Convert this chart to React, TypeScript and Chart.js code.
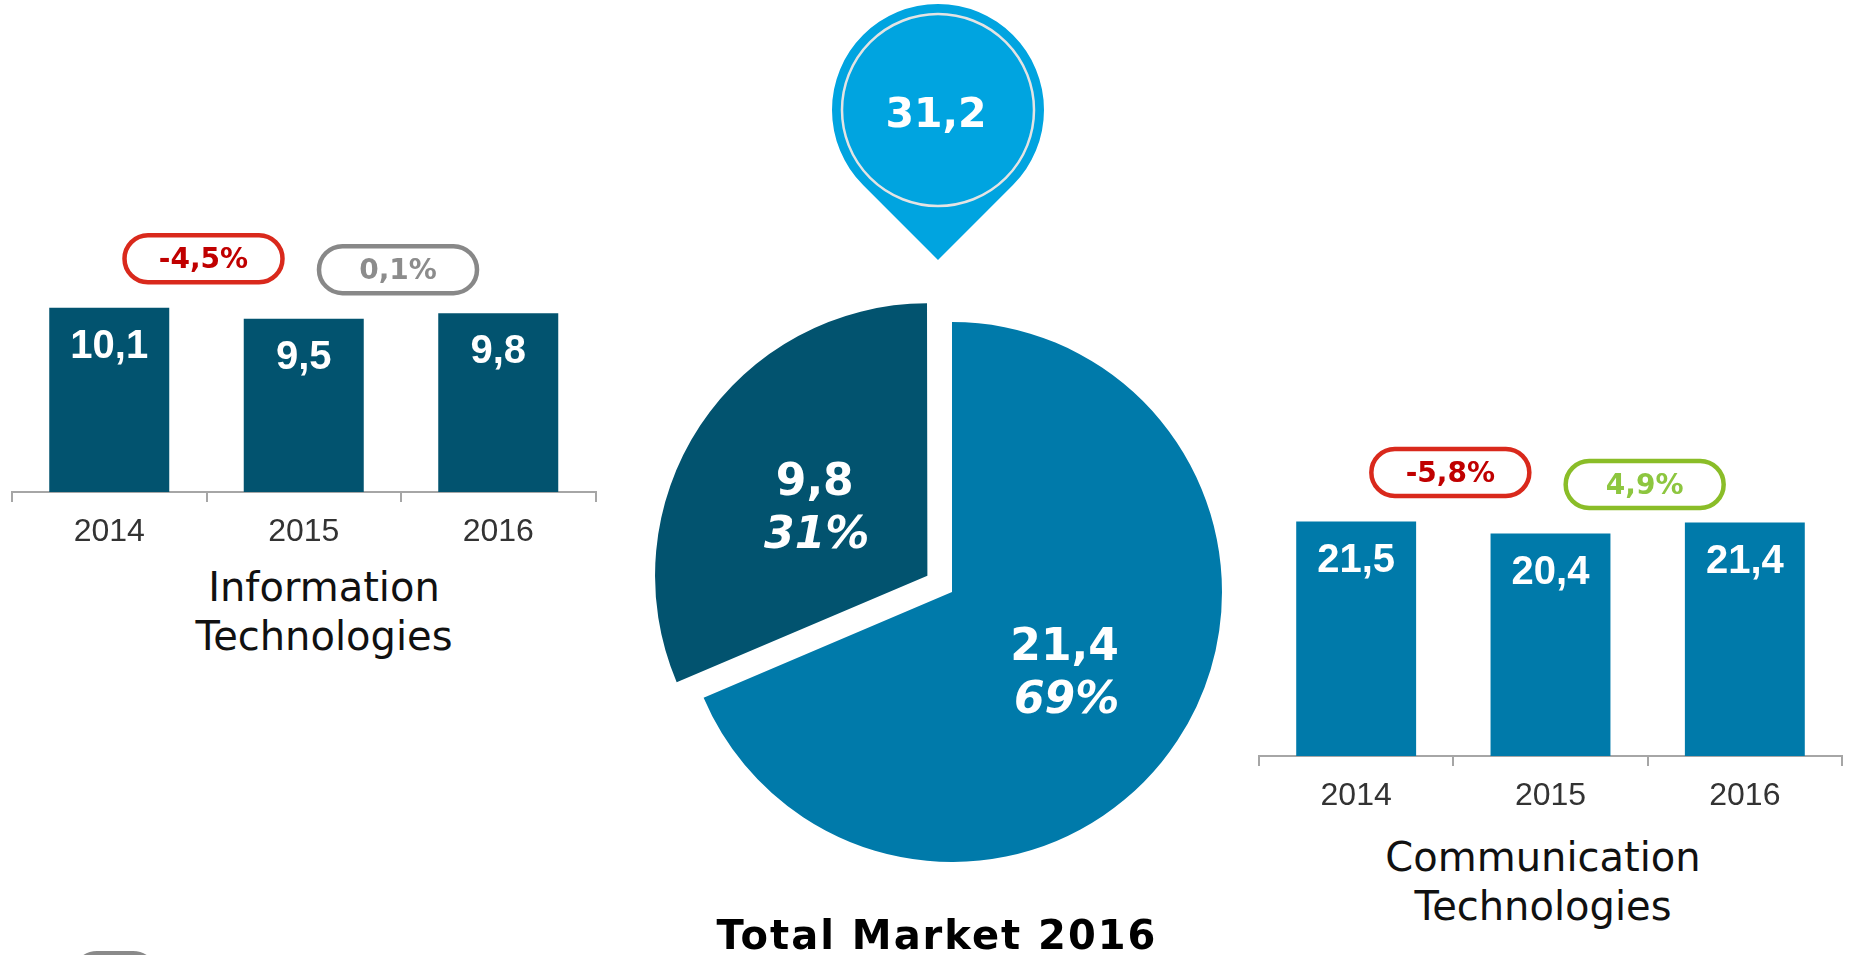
import React, { useEffect, useRef } from 'react';
import { Chart, registerables } from 'chart.js';

Chart.register(...registerables);

// ---- data ----
const years = ['2014', '2015', '2016'];
const itValues = [10.1, 9.5, 9.8];
const ctValues = [21.5, 20.4, 21.4];
const itChanges = [-4.5, 0.1];
const ctChanges = [-5.8, 4.9];
const segmentLabels = ['Communication Technologies', 'Information Technologies'];
const marketValues = [21.4, 9.8];
const itTitle = ['Information', 'Technologies'];
const ctTitle = ['Communication', 'Technologies'];
const totalTitle = 'Total Market 2016';

// ---- styles ----
const DARK = '#02536F';
const MID = '#007AAA';
const PIN = '#00A4E0';
const AXIS = '#a6a6a6';
const EXPLODE = 118; // Chart.js arc offset (moves slice by offset / 4)

const fmt = (v: number, d = 1) => v.toFixed(d).replace('.', ',');

function tone(v: number) {
  if (v <= -1) return { border: '#D9291C', text: '#C00000' };
  if (v >= 1) return { border: '#8ABD28', text: '#8DC63F' };
  return { border: '#888888', text: '#8c8c8c' };
}

function roundRectPath(ctx: CanvasRenderingContext2D, x: number, y: number, w: number, h: number, r: number) {
  ctx.beginPath();
  ctx.moveTo(x + r, y);
  ctx.lineTo(x + w - r, y);
  ctx.arc(x + w - r, y + r, r, -Math.PI / 2, 0);
  ctx.lineTo(x + w, y + h - r);
  ctx.arc(x + w - r, y + h - r, r, 0, Math.PI / 2);
  ctx.lineTo(x + r, y + h);
  ctx.arc(x + r, y + h - r, r, Math.PI / 2, Math.PI);
  ctx.lineTo(x, y + r);
  ctx.arc(x + r, y + r, r, Math.PI, Math.PI * 1.5);
  ctx.closePath();
}

type BarProps = {
  values: number[];
  changes: number[];
  color: string;
  left: number;
  top: number;
  width: number;
  height: number;
  padL: number;
  padR: number;
  max: number;
};

function BarPanel({ values, changes, color, left, top, width, height, padL, padR, max }: BarProps) {
  const ref = useRef<HTMLCanvasElement>(null);
  useEffect(() => {
    if (!ref.current) return;
    const labelPlugin = {
      id: 'barLabels',
      afterDatasetsDraw(chart: any) {
        const ctx = chart.ctx as CanvasRenderingContext2D;
        const meta = chart.getDatasetMeta(0);
        ctx.save();
        ctx.textAlign = 'center';
        ctx.textBaseline = 'middle';
        ctx.fillStyle = '#ffffff';
        ctx.font = 'bold 40px "Liberation Sans", Arial, sans-serif';
        meta.data.forEach((bar: any, i: number) => {
          ctx.fillText(fmt(values[i]), bar.x, bar.y + 39);
        });
        changes.forEach((c, i) => {
          const a = meta.data[i];
          const b = meta.data[i + 1];
          if (!a || !b) return;
          const cx = (a.x + b.x) / 2 - 3;
          const cy = a.y - 49;
          const w = 158;
          const h = 47;
          const t = tone(c);
          roundRectPath(ctx, cx - w / 2, cy - h / 2, w, h, h / 2);
          ctx.fillStyle = '#ffffff';
          ctx.fill();
          ctx.lineWidth = 4.5;
          ctx.strokeStyle = t.border;
          ctx.stroke();
          ctx.fillStyle = t.text;
          ctx.font = 'bold 28px "DejaVu Sans", Verdana, sans-serif';
          ctx.fillText(fmt(c) + '%', cx, cy + 2);
        });
        ctx.restore();
      },
    };
    const chart = new Chart(ref.current, {
      type: 'bar',
      data: {
        labels: years,
        datasets: [
          {
            data: values,
            backgroundColor: color,
            borderWidth: 0,
            barPercentage: 0.617,
            categoryPercentage: 1,
          },
        ],
      },
      options: {
        animation: false,
        responsive: false,
        events: [],
        layout: { padding: { left: padL, right: padR, top: 0, bottom: 0 } },
        plugins: {
          legend: { display: false },
          tooltip: { enabled: false },
          title: { display: false },
        },
        scales: {
          x: {
            grid: {
              offset: true,
              drawOnChartArea: false,
              drawTicks: true,
              tickLength: 10,
              color: AXIS,
              lineWidth: 2,
            },
            border: { display: true, color: AXIS, width: 2 },
            ticks: {
              color: '#333333',
              font: { family: '"Liberation Sans", Arial, sans-serif', size: 32 },
              padding: 11,
              maxRotation: 0,
              autoSkip: false,
            },
            afterFit: (s: any) => {
              s.height = 64;
            },
          },
          y: { display: false, min: 0, max },
        },
      } as any,
      plugins: [labelPlugin],
    });
    return () => chart.destroy();
  }, []);
  return (
    <canvas
      ref={ref}
      width={width}
      height={height}
      style={{ position: 'absolute', left, top, width, height }}
    />
  );
}

function PiePanel() {
  const ref = useRef<HTMLCanvasElement>(null);
  useEffect(() => {
    if (!ref.current) return;
    const total = marketValues.reduce((a, b) => a + b, 0);
    const piePlugin = {
      id: 'pieDecor',
      afterDatasetsDraw(chart: any) {
        const ctx = chart.ctx as CanvasRenderingContext2D;
        const meta = chart.getDatasetMeta(0);
        ctx.save();
        ctx.textAlign = 'center';
        ctx.textBaseline = 'middle';
        ctx.fillStyle = '#ffffff';
        meta.data.forEach((arc: any, i: number) => {
          const p = arc.getProps(['x', 'y', 'startAngle', 'endAngle', 'outerRadius'], true);
          const mid = (p.startAngle + p.endAngle) / 2;
          const off = ((arc.options && arc.options.offset) || 0) / 4;
          const r = p.outerRadius / 2 + off;
          const cx = p.x + Math.cos(mid) * r;
          const cy = p.y + Math.sin(mid) * r;
          ctx.font = 'bold 44px "DejaVu Sans", Verdana, sans-serif';
          ctx.fillText(fmt(marketValues[i]), cx, cy - 18);
          ctx.font = 'italic bold 44px "DejaVu Sans", Verdana, sans-serif';
          ctx.fillText(Math.round((marketValues[i] / total) * 100) + '%', cx + 2, cy + 35);
        });

        // pin with total
        const a0 = meta.data[0];
        const pcx = a0.x - 14;
        const pcy = chart.chartArea.top - 182;
        const pr = 106;
        const d = pr / Math.sin(Math.PI / 4);
        ctx.beginPath();
        ctx.moveTo(pcx, pcy + d);
        ctx.lineTo(pcx + pr * Math.cos(Math.PI / 4), pcy + pr * Math.sin(Math.PI / 4));
        ctx.arc(pcx, pcy, pr, Math.PI / 4, (3 * Math.PI) / 4, true);
        ctx.closePath();
        ctx.fillStyle = PIN;
        ctx.fill();
        ctx.beginPath();
        ctx.arc(pcx, pcy, 96, 0, Math.PI * 2);
        ctx.lineWidth = 2.5;
        ctx.strokeStyle = '#e4e4e4';
        ctx.stroke();
        ctx.fillStyle = '#ffffff';
        ctx.font = 'bold 41px "DejaVu Sans", Verdana, sans-serif';
        ctx.fillText(fmt(total), pcx - 2, pcy + 6);

        // title
        ctx.fillStyle = '#000000';
        ctx.textBaseline = 'alphabetic';
        ctx.font = 'bold 40px "DejaVu Sans", Verdana, sans-serif';
        try {
          (ctx as any).letterSpacing = '2px';
        } catch (e) {}
        ctx.fillText(totalTitle, a0.x - 15, chart.chartArea.bottom + 57);
        ctx.restore();
      },
    };
    const chart = new Chart(ref.current, {
      type: 'pie',
      data: {
        labels: segmentLabels,
        datasets: [
          {
            data: marketValues,
            backgroundColor: [MID, DARK],
            borderWidth: 0,
            offset: [0, EXPLODE],
            hoverOffset: 0,
          },
        ],
      },
      options: {
        animation: false,
        responsive: false,
        events: [],
        radius: 270,
        rotation: 0,
        layout: { padding: { left: 12, right: 8, top: 292, bottom: 63 } },
        plugins: {
          legend: { display: false },
          tooltip: { enabled: false },
        },
      } as any,
      plugins: [piePlugin],
    });
    return () => chart.destroy();
  }, []);
  return (
    <canvas
      ref={ref}
      width={620}
      height={955}
      style={{ position: 'absolute', left: 640, top: 0, width: 620, height: 955 }}
    />
  );
}

const titleStyle: React.CSSProperties = {
  position: 'absolute',
  fontFamily: '"DejaVu Sans", Verdana, sans-serif',
  fontSize: 40,
  lineHeight: '49px',
  color: '#111111',
  textAlign: 'center',
  whiteSpace: 'nowrap',
};

export default function App() {
  return (
    <div
      style={{
        position: 'fixed',
        left: 0,
        top: 0,
        width: 1850,
        height: 955,
        overflow: 'hidden',
        background: '#ffffff',
      }}
    >
      <BarPanel
        values={itValues}
        changes={itChanges}
        color={DARK}
        left={0}
        top={200}
        width={610}
        height={356}
        padL={12}
        padR={14.5}
        max={16}
      />
      <BarPanel
        values={ctValues}
        changes={ctChanges}
        color={MID}
        left={1245}
        top={407}
        width={605}
        height={413}
        padL={14}
        padR={8}
        max={32}
      />
      <PiePanel />
      <div style={{ ...titleStyle, left: 124, top: 563, width: 400 }}>
        {itTitle[0]}
        <br />
        {itTitle[1]}
      </div>
      <div style={{ ...titleStyle, left: 1343, top: 833, width: 400 }}>
        {ctTitle[0]}
        <br />
        {ctTitle[1]}
      </div>
      <div
        style={{
          position: 'absolute',
          left: 72,
          top: 951,
          width: 86,
          height: 50,
          border: '4px solid #8a8a8a',
          borderRadius: 25,
          boxSizing: 'border-box',
        }}
      />
    </div>
  );
}
